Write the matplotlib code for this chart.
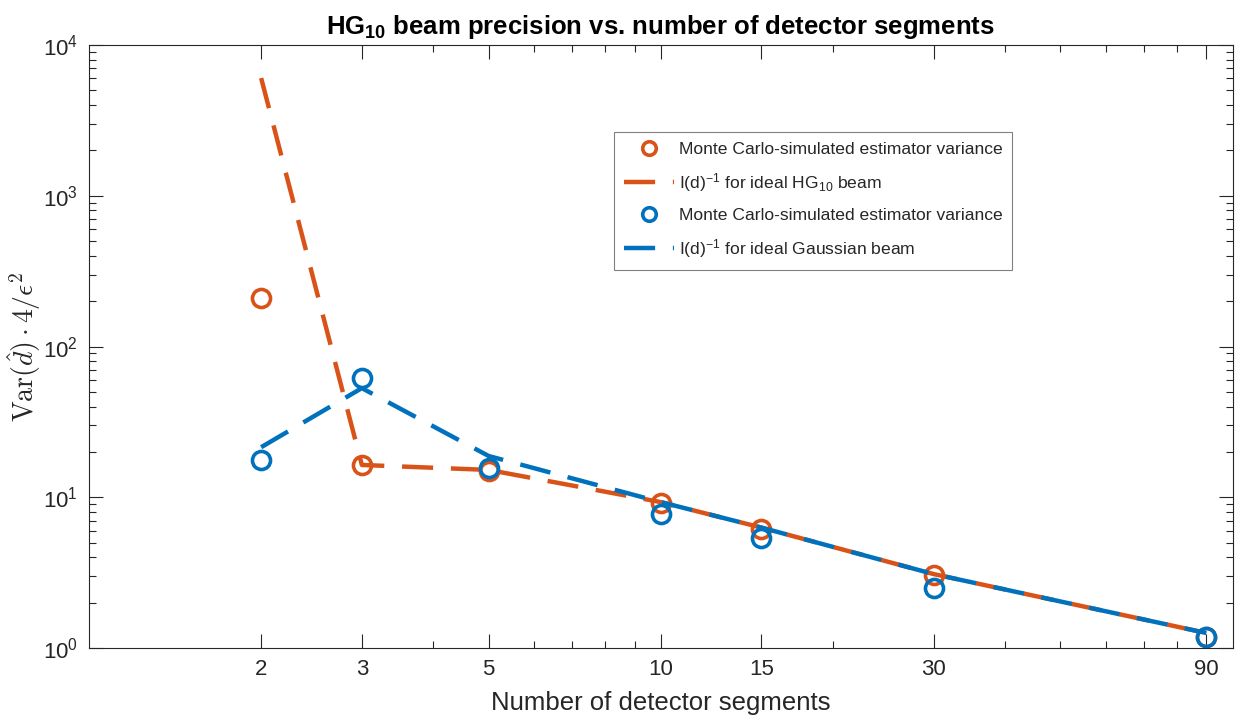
import numpy as np
import matplotlib
matplotlib.use('Agg')
import matplotlib.pyplot as plt
from matplotlib.ticker import FixedLocator, FixedFormatter, LogLocator, NullFormatter

plt.rcParams['font.family'] = ['Liberation Sans', 'DejaVu Sans']
plt.rcParams['mathtext.fontset'] = 'custom'
plt.rcParams['mathtext.rm'] = 'Liberation Sans'
plt.rcParams['mathtext.it'] = 'Liberation Sans:italic'
plt.rcParams['mathtext.bf'] = 'Liberation Sans:bold'

segments = [2, 3, 5, 10, 15, 30, 90]
hg_mc = [210, 16.4, 15.0, 9.2, 6.2, 3.05, 1.18]
hg_fisher = [6030, 16.4, 15.2, 9.3, 6.3, 3.1, 1.26]
gauss_mc = [17.7, 62, 15.6, 7.7, 5.4, 2.5, 1.18]
gauss_fisher = [21.5, 53, 18.8, 9.3, 6.3, 3.1, 1.26]

orange = '#D95319'
blue = '#0072BD'
axcol = '#262626'

fig = plt.figure(figsize=(12.47, 7.25), dpi=100)
ax = fig.add_axes([0.0714, 0.106, 0.917, 0.832])

ms = 13
mew = 2.6
dash = (7, 4)
ax.plot(segments, hg_mc, 'o', color=orange, mfc='none', ms=ms, mew=mew,
        label='Monte Carlo-simulated estimator variance')
ax.plot(segments, hg_fisher, '--', color=orange, lw=3.2, dashes=dash,
        label=r'I(d)$^{\mathregular{-1}}$ for ideal HG$_{\mathregular{10}}$ beam')
ax.plot(segments, gauss_mc, 'o', color=blue, mfc='none', ms=ms, mew=mew,
        label='Monte Carlo-simulated estimator variance')
ax.plot(segments, gauss_fisher, '--', color=blue, lw=3.2, dashes=dash,
        label=r'I(d)$^{\mathregular{-1}}$ for ideal Gaussian beam')

ax.set_xscale('log')
ax.set_yscale('log')
ax.set_xlim(1, 100)
ax.set_ylim(1, 1e4)

ax.xaxis.set_major_locator(FixedLocator(segments))
ax.xaxis.set_major_formatter(FixedFormatter([str(s) for s in segments]))
ax.xaxis.set_minor_locator(LogLocator(base=10, subs=np.arange(2, 10)))
ax.xaxis.set_minor_formatter(NullFormatter())
ax.yaxis.set_major_locator(LogLocator(base=10, numticks=10))
ax.yaxis.set_minor_locator(LogLocator(base=10, subs=np.arange(2, 10), numticks=10))

ax.tick_params(which='both', direction='in', top=True, right=True,
               colors=axcol, labelcolor=axcol, width=0.8)
ax.tick_params(which='major', length=10, labelsize=16, pad=8)
ax.tick_params(which='minor', length=5)
for s in ax.spines.values():
    s.set_color(axcol)
    s.set_linewidth(0.8)

ax.set_xlabel('Number of detector segments', fontsize=18.5, color=axcol, labelpad=8)
ax.set_ylabel(r'$\mathrm{Var}(\hat{d})\cdot 4/\epsilon^2$', fontsize=20, color=axcol,
              labelpad=0, math_fontfamily='cm')
ax.set_title(r'HG$_{\mathbf{10}}$ beam precision vs. number of detector segments',
             fontsize=18.5, fontweight='bold', color='black', pad=8)

leg = ax.legend(loc='upper left', bbox_to_anchor=(0.4545, 0.864), fontsize=12.6,
                fancybox=False, edgecolor='#808080', framealpha=1,
                handlelength=2.9, handletextpad=0.25, labelspacing=0.8,
                borderpad=0.55, borderaxespad=0.3, markerscale=0.75)
leg.get_frame().set_linewidth(0.8)
for t in leg.get_texts():
    t.set_color(axcol)

fig.savefig('out.png', dpi=100)
